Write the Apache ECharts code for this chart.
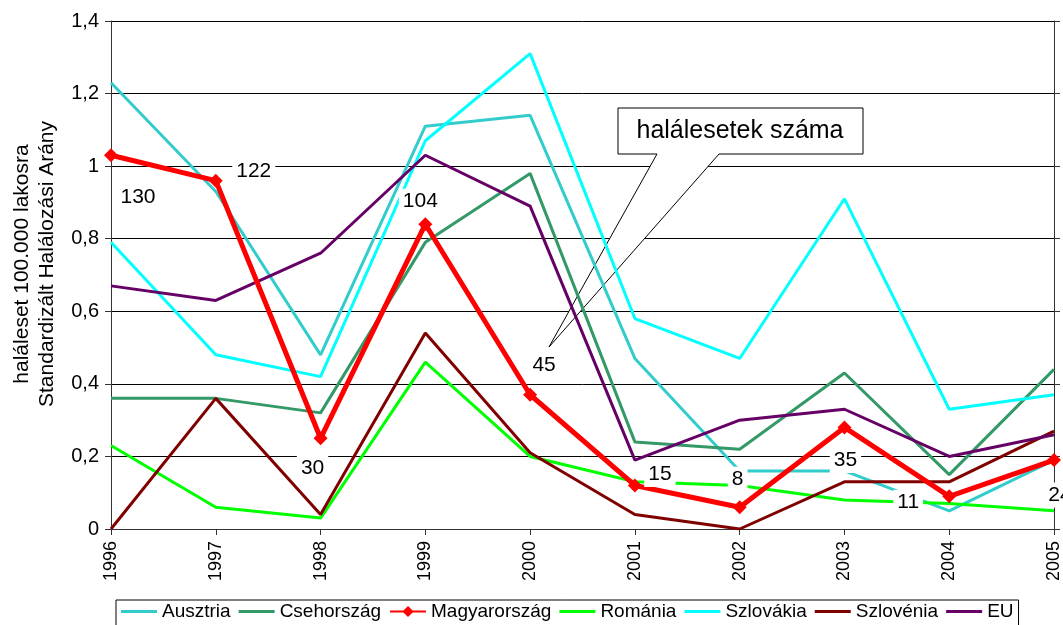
<!DOCTYPE html>
<html>
<head>
<meta charset="utf-8">
<script src="https://cdn.jsdelivr.net/npm/echarts@6/dist/echarts.min.js"></script>
<style>
  html, body { margin: 0; padding: 0; background: #fff; }
  #chart { width: 1063px; height: 625px; }
</style>
</head>
<body>
<div id="chart"></div>
<script>
const years = ["1996", "1997", "1998", "1999", "2000", "2001", "2002", "2003", "2004", "2005"];

const ausztria = [1.23, 0.93, 0.48, 1.11, 1.14, 0.47, 0.16, 0.16, 0.05, 0.19];
const csehorszag = [0.36, 0.36, 0.32, 0.79, 0.98, 0.24, 0.22, 0.43, 0.15, 0.44];
const magyarorszag = [1.03, 0.96, 0.25, 0.84, 0.37, 0.12, 0.06, 0.28, 0.09, 0.19];
const romania = [0.23, 0.06, 0.03, 0.46, 0.20, 0.13, 0.12, 0.08, 0.07, 0.05];
const szlovakia = [0.79, 0.48, 0.42, 1.07, 1.31, 0.58, 0.47, 0.91, 0.33, 0.37];
const szlovenia = [0.00, 0.36, 0.04, 0.54, 0.21, 0.04, 0.00, 0.13, 0.13, 0.27];
const eu = [0.67, 0.63, 0.76, 1.03, 0.89, 0.19, 0.30, 0.33, 0.20, 0.26];

// halálesetek száma (Magyarország)
const deaths = [130, 122, 30, 104, 45, 15, 8, 35, 11, 24];
// where each death-count label sits relative to its point
const labelOffsets = [[27, 42], [38, -9], [-8, 30], [-5, -23], [14, -30], [25, -11], [-2, -28], [1, 33], [-41, 6], [6, 35]];

const chart = echarts.init(document.getElementById("chart"));

const lineIcon = "path://M0,0H36V3H0Z";

function thin(name, data, color) {
  return {
    name: name,
    type: "line",
    data: data,
    symbol: "none",
    z: 2,
    lineStyle: { color: color, width: 3 },
    itemStyle: { color: color },
  };
}

chart.setOption({
  animation: false,
  textStyle: { fontFamily: "Liberation Sans, Arial, sans-serif" },
  grid: { left: 111, right: 7, top: 21, bottom: 96 },
  legend: {
    top: 600,
    left: 116,
    padding: [2, 5, 8, 5],
    borderColor: "#000",
    borderWidth: 1,
    borderRadius: 0,
    itemGap: 8,
    itemWidth: 36,
    itemHeight: 14,
    textStyle: { fontSize: 19, color: "#000" },
    data: [
      { name: "Ausztria", icon: lineIcon },
      { name: "Csehország", icon: lineIcon },
      { name: "Magyarország" },
      { name: "Románia", icon: lineIcon },
      { name: "Szlovákia", icon: lineIcon },
      { name: "Szlovénia", icon: lineIcon },
      { name: "EU", icon: lineIcon },
    ],
  },
  xAxis: {
    type: "category",
    data: years,
    boundaryGap: false,
    axisLine: { lineStyle: { color: "#333", width: 1 } },
    axisTick: { show: true, length: 6, lineStyle: { color: "#333" } },
    axisLabel: { rotate: 90, fontSize: 18, color: "#000", margin: 12 },
    splitLine: { show: false },
  },
  yAxis: [
    {
      type: "value",
      min: 0,
      max: 1.4,
      interval: 0.2,
      name: "haláleset 100.000 lakosra\nStandardizált Halálozási Arány",
      nameLocation: "middle",
      nameRotate: 90,
      nameGap: 51,
      nameTextStyle: { fontSize: 21, lineHeight: 25, color: "#000", padding: [0, 0, 0, 22] },
      axisLine: { show: true, lineStyle: { color: "#333" } },
      axisTick: { show: true, length: 6, lineStyle: { color: "#333" } },
      axisLabel: {
        fontSize: 20,
        color: "#000",
        margin: 12,
        formatter: (v) => String(Math.round(v * 10) / 10).replace(".", ","),
      },
      splitLine: { show: true, lineStyle: { color: "#000", width: 1 } },
    },
    {
      type: "value",
      position: "right",
      min: 0,
      max: 1.4,
      interval: 0.2,
      axisLine: { show: true, lineStyle: { color: "#333" } },
      axisTick: { show: true, length: 6, lineStyle: { color: "#333" } },
      axisLabel: { show: false },
      splitLine: { show: false },
    },
  ],
  series: [
    thin("Ausztria", ausztria, "#33CCCC"),
    thin("Csehország", csehorszag, "#339966"),
    {
      name: "Magyarország",
      type: "line",
      z: 5,
      data: magyarorszag.map((v, i) => ({
        value: v,
        label: { offset: labelOffsets[i] },
      })),
      symbol: "diamond",
      symbolSize: 14,
      lineStyle: { color: "#FF0000", width: 5 },
      itemStyle: { color: "#FF0000" },
      label: {
        show: true,
        position: "inside",
        fontSize: 21,
        color: "#000",
        backgroundColor: "#fff",
        padding: [2, 4],
        formatter: (p) => String(deaths[p.dataIndex]),
      },
    },
    thin("Románia", romania, "#00FF00"),
    thin("Szlovákia", szlovakia, "#00FFFF"),
    thin("Szlovénia", szlovenia, "#800000"),
    thin("EU", eu, "#660066"),
  ],
  graphic: [
    {
      type: "polygon",
      z: 1,
      shape: {
        points: [[618, 108], [863, 108], [863, 154], [719, 154], [549, 347], [657, 154], [618, 154]],
      },
      style: { fill: "#fff", stroke: "#000", lineWidth: 1 },
    },
    {
      type: "text",
      z: 1,
      x: 740,
      y: 131,
      style: {
        text: "halálesetek száma",
        fill: "#000",
        font: "25px Liberation Sans, Arial, sans-serif",
        textAlign: "center",
        textVerticalAlign: "middle",
      },
    },
  ],
});
</script>
</body>
</html>
